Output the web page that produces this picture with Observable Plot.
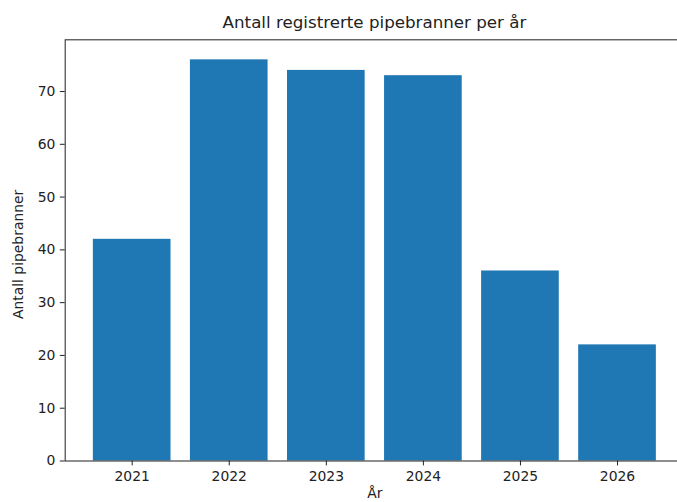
<!DOCTYPE html>
<html><head><meta charset="utf-8">
<script src="https://cdn.jsdelivr.net/npm/d3@7"></script>
<script src="https://cdn.jsdelivr.net/npm/@observablehq/plot@0.6"></script>
<style>
html,body{margin:0;padding:0;background:#fff;overflow:hidden;width:677px;height:502px}
#title{height:38px;box-sizing:border-box;padding-top:12px;line-height:20px;margin-left:65px;width:619px;text-align:center;font-family:"DejaVu Sans";font-size:16.7px;color:#222;white-space:nowrap}
#chart svg{display:block;max-width:none;overflow:visible}
</style></head><body>
<div id="title"></div>
<div id="chart"></div>
<script>
const years = ["2021", "2022", "2023", "2024", "2025", "2026"];
const counts = [42, 76, 74, 73, 36, 22];
const yTicks = [0, 10, 20, 30, 40, 50, 60, 70];
const titleText = "Antall registrerte pipebranner per år";
const xLabel = "År";
const yLabel = "Antall pipebranner";

document.getElementById("title").textContent = titleText;
const data = years.map((y, i) => ({year: y, count: counts[i]}));

const chart = Plot.plot({
  width: 677, height: 464,
  marginTop: 1.3, marginBottom: 41.5, marginLeft: 64.7, marginRight: -7,
  style: {fontFamily: "DejaVu Sans", fontSize: "13.9px", color: "#222", background: "white", overflow: "visible"},
  x: {type: "band", domain: years, paddingInner: 0.2, paddingOuter: 0.29, align: 0.5, round: false, axis: null},
  y: {domain: [0, 79.8], axis: null},
  marks: [
    Plot.barY(data, {x: "year", y: "count", fill: "#1f77b4"}),
    Plot.frame({stroke: "#333", strokeWidth: 1.1}),
    Plot.axisX({tickSize: 4.9, tickPadding: 4.9, label: null, fontSize: 13.9}),
    Plot.axisY({ticks: yTicks, tickSize: 4.9, tickPadding: 4.9, label: null, fontSize: 13.9}),
    Plot.text([yLabel], {text: d => d, frameAnchor: "left", textAnchor: "middle", dx: -47, dy: 4, rotate: -90, fontSize: 13.9}),
    Plot.text([xLabel], {text: d => d, frameAnchor: "bottom", dy: 27, lineAnchor: "top", fontSize: 13.9})
  ]
});
document.getElementById("chart").appendChild(chart);
</script>
</body></html>
